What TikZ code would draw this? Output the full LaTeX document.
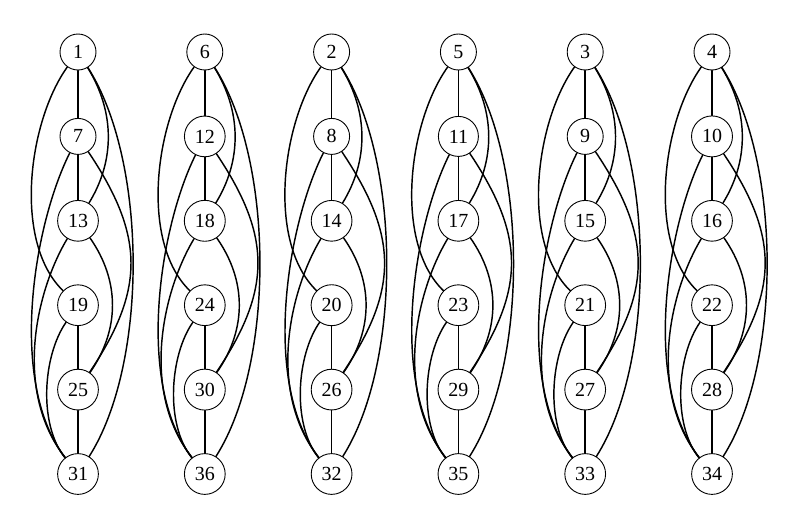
\documentclass[tikz,border=0pt]{standalone}
\usepackage{fontspec}
\setmainfont{Liberation Serif}
\tikzset{
  vertex/.style={circle, draw, line width=0.9pt, minimum size=36pt, inner sep=6pt,
    font=\fontsize{20}{24}\selectfont},
  link/.style={line width=1.45pt}
}
\begin{document}
\begin{tikzpicture}[x=1pt, y=-1pt, line cap=round, line join=round]
\useasboundingbox (0,0) rectangle (806,520);

% Vertices, one column per class
\foreach \t [count=\c from 0] in {1,6,2,5,3,4}
{
  \foreach \k in {0,...,5}
  {
    \pgfmathtruncatemacro{\lab}{\t+6*\k}
    \node[vertex] (n\lab) at ({78+126.8*\c},{52+84.4*\k}) {\lab};
  }
}

% Edges of each column
\foreach \t in {1,6,2,5,3,4}
{
  \pgfmathtruncatemacro{\va}{\t}
  \pgfmathtruncatemacro{\vb}{\t+6}
  \pgfmathtruncatemacro{\vc}{\t+12}
  \pgfmathtruncatemacro{\vd}{\t+18}
  \pgfmathtruncatemacro{\ve}{\t+24}
  \pgfmathtruncatemacro{\vf}{\t+30}

  % straight
  \draw[link] (n\va) -- (n\vb);
  \draw[link] (n\vb) -- (n\vc);
  \draw[link] (n\vd) -- (n\ve);
  \draw[link] (n\ve) -- (n\vf);

  % bending right
  \draw[link] (n\va) .. controls +(37,60) and +(37,-60) .. (n\vc);
  \draw[link] (n\va) .. controls +(70,110) and +(70,-110) .. (n\vf);
  \draw[link] (n\vb) .. controls +(67,100) and +(67,-100) .. (n\ve);
  \draw[link] (n\vc) .. controls +(42,60) and +(42,-60) .. (n\ve);

  % bending left
  \draw[link] (n\va) .. controls +(-50,70) and +(-65,-63) .. (n\vd);
  \draw[link] (n\vb) .. controls +(-45,90) and +(-70,-90) .. (n\vf);
  \draw[link] (n\vc) .. controls +(-42,70) and +(-65,-83) .. (n\vf);
  \draw[link] (n\vd) .. controls +(-35,50) and +(-40,-50) .. (n\vf);
}

\end{tikzpicture}
\end{document}
